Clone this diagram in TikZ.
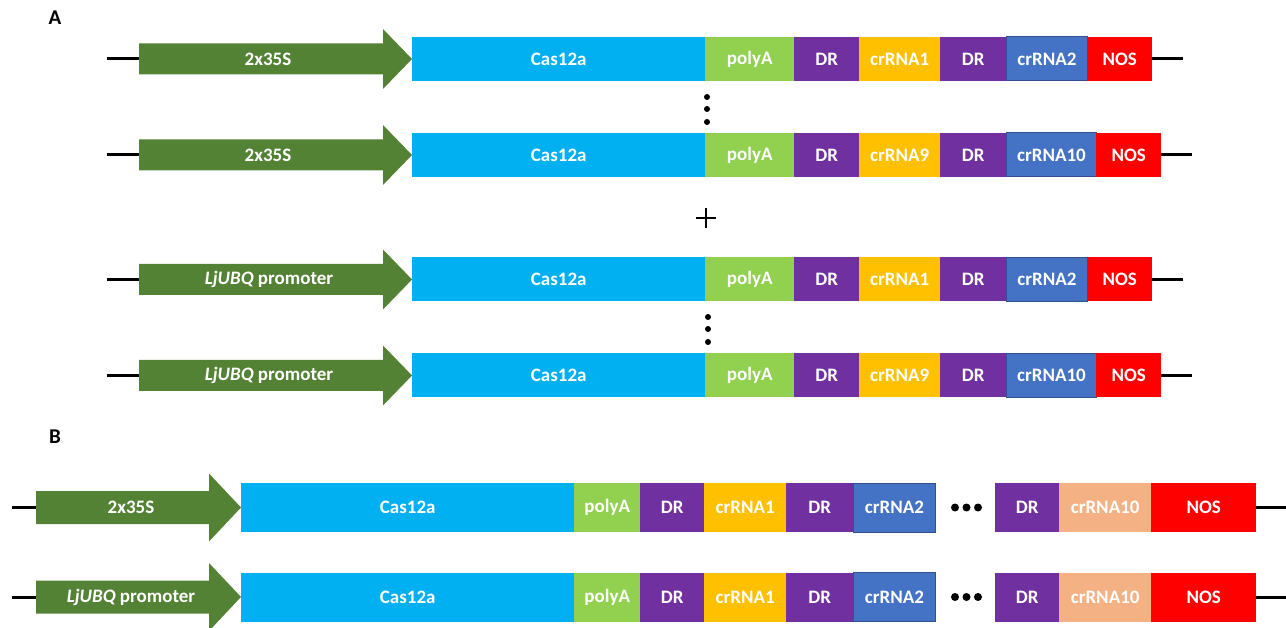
\documentclass[tikz,border=0pt]{standalone}
\usepackage{fontspec}
\setmainfont{Carlito}
\definecolor{prom}{HTML}{548235}
\definecolor{cas}{HTML}{00B0F0}
\definecolor{polya}{HTML}{92D050}
\definecolor{drc}{HTML}{7030A0}
\definecolor{cra}{HTML}{FFC000}
\definecolor{crb}{HTML}{4472C4}
\definecolor{crbdraw}{HTML}{2F528F}
\definecolor{nosc}{HTML}{FF0000}
\definecolor{crc}{HTML}{F4B183}
\tikzset{
  lbl/.style={text=white, font=\bfseries\fontsize{19}{21}\selectfont, inner sep=0pt},
  segbox/.style={rectangle, inner sep=0pt, anchor=west, text=white, font=\bfseries\fontsize{19}{21}\selectfont},
  dna/.style={line width=3pt, black},
  dotc/.style={circle, fill=black, inner sep=0pt},
  panel/.style={font=\bfseries\fontsize{21}{23}\selectfont, text=black}
}
\def\segh{44}
\newcommand\segm[7][]{%
  \node[segbox, fill=#6, minimum width={#4pt-#3pt}, minimum height=\segh pt, #1] (#2) at (#3,#5) {#7};}
\newcommand\promo[9]{%
  \fill[prom] (#2,#5-#6) -- (#3,#5-#6) -- (#3,#5-#7) -- (#4,#5) -- (#3,#5+#7) -- (#3,#5+#6) -- (#2,#5+#6) -- cycle;
  \node[lbl] (#1) at (#8,#5) {#9};
  \coordinate (#1tail) at (#2,#5);}
\begin{document}
\begin{tikzpicture}[x=1pt, y=-1pt]
\useasboundingbox (0,0) rectangle (1286,628);
\node[panel] (labA) at (55,18) {A};
\node[panel] (labB) at (55,437) {B};
% ---------- A row 1
\def\segh{44}
\coordinate (a1L) at (107,59);
\coordinate (a1R) at (1183,59);
\promo{a1p}{139}{383}{412}{59}{15.5}{30}{268}{2x35S}
\draw[dna] (a1L) -- (a1ptail);
\segm{a1cas}{412}{705}{59}{cas}{Cas12a}
\segm{a1pa}{705}{794}{59}{polya}{polyA}
\segm{a1dr1}{794}{859}{59}{drc}{DR}
\segm{a1c1}{859}{940}{59}{cra}{crRNA1}
\segm{a1dr2}{940}{1006}{59}{drc}{DR}
\segm[draw=crbdraw, line width=1pt]{a1c2}{1006}{1087}{59}{crb}{crRNA2}
\segm{a1nos}{1087}{1152}{59}{nosc}{NOS}
\draw[dna] (a1nos.east) -- (a1R);
% dots
\node[dotc, minimum size=6pt] (d1) at (707,97) {};
\node[dotc, minimum size=6pt] (d2) at (707,109) {};
\node[dotc, minimum size=6pt] (d3) at (707,122) {};
% ---------- A row 2
\coordinate (a2L) at (107,155);
\coordinate (a2R) at (1192,155);
\promo{a2p}{139}{383}{412}{155}{15.5}{30}{268}{2x35S}
\draw[dna] (a2L) -- (a2ptail);
\segm{a2cas}{412}{705}{155}{cas}{Cas12a}
\segm{a2pa}{705}{794}{155}{polya}{polyA}
\segm{a2dr1}{794}{859}{155}{drc}{DR}
\segm{a2c1}{859}{940}{155}{cra}{crRNA9}
\segm{a2dr2}{940}{1006}{155}{drc}{DR}
\segm[draw=crbdraw, line width=1pt]{a2c2}{1006}{1096}{155}{crb}{crRNA10}
\segm{a2nos}{1096}{1161}{155}{nosc}{NOS}
\draw[dna] (a2nos.east) -- (a2R);
% plus
\coordinate (plc) at (706,218);
\draw[line width=1.5pt] ([xshift=-10pt]plc) -- ([xshift=10pt]plc);
\draw[line width=1.5pt] ([yshift=-10pt]plc) -- ([yshift=10pt]plc);
% ---------- A row 3
\coordinate (a3L) at (107,279.5);
\coordinate (a3R) at (1183,279.5);
\promo{a3p}{139}{383}{412}{279.5}{15.5}{30}{269}{\textit{LjUBQ} promoter}
\draw[dna] (a3L) -- (a3ptail);
\segm{a3cas}{412}{705}{279.5}{cas}{Cas12a}
\segm{a3pa}{705}{794}{279.5}{polya}{polyA}
\segm{a3dr1}{794}{859}{279.5}{drc}{DR}
\segm{a3c1}{859}{940}{279.5}{cra}{crRNA1}
\segm{a3dr2}{940}{1006}{279.5}{drc}{DR}
\segm[draw=crbdraw, line width=1pt]{a3c2}{1006}{1087}{279.5}{crb}{crRNA2}
\segm{a3nos}{1087}{1152}{279.5}{nosc}{NOS}
\draw[dna] (a3nos.east) -- (a3R);
\node[dotc, minimum size=6pt] (d4) at (708,317) {};
\node[dotc, minimum size=6pt] (d5) at (708,329) {};
\node[dotc, minimum size=6pt] (d6) at (708,342) {};
% ---------- A row 4
\coordinate (a4L) at (107,375.5);
\coordinate (a4R) at (1192,375.5);
\promo{a4p}{139}{383}{412}{375.5}{15.5}{30}{269}{\textit{LjUBQ} promoter}
\draw[dna] (a4L) -- (a4ptail);
\segm{a4cas}{412}{705}{375.5}{cas}{Cas12a}
\segm{a4pa}{705}{794}{375.5}{polya}{polyA}
\segm{a4dr1}{794}{859}{375.5}{drc}{DR}
\segm{a4c1}{859}{940}{375.5}{cra}{crRNA9}
\segm{a4dr2}{940}{1006}{375.5}{drc}{DR}
\segm[draw=crbdraw, line width=1pt]{a4c2}{1006}{1096}{375.5}{crb}{crRNA10}
\segm{a4nos}{1096}{1161}{375.5}{nosc}{NOS}
\draw[dna] (a4nos.east) -- (a4R);
% ---------- B row 1
\def\segh{49}
\coordinate (b1L) at (12,507.5);
\coordinate (b1R) at (1290,507.5);
\promo{b1p}{36}{209}{241}{507.5}{16.5}{34}{131}{2x35S}
\draw[dna] (b1L) -- (b1ptail);
\segm{b1cas}{241}{574}{507.5}{cas}{Cas12a}
\segm{b1pa}{574}{640}{507.5}{polya}{polyA}
\segm{b1dr1}{640}{704}{507.5}{drc}{DR}
\segm{b1c1}{704}{786}{507.5}{cra}{crRNA1}
\segm{b1dr2}{786}{853}{507.5}{drc}{DR}
\segm[draw=crbdraw, line width=1pt]{b1c2}{853}{935}{507.5}{crb}{crRNA2}
\node[dotc, minimum size=8pt] (bd1) at (955,507.5) {};
\node[dotc, minimum size=8pt] (bd2) at (966.5,507.5) {};
\node[dotc, minimum size=8pt] (bd3) at (978,507.5) {};
\segm{b1dr3}{995}{1059}{507.5}{drc}{DR}
\segm{b1c10}{1059}{1151}{507.5}{crc}{crRNA10}
\segm{b1nos}{1151}{1256}{507.5}{nosc}{NOS}
\draw[dna] (b1nos.east) -- (b1R);
% ---------- B row 2
\coordinate (b2L) at (12,597);
\coordinate (b2R) at (1290,597);
\promo{b2p}{36}{209}{241}{597}{16.5}{34}{131}{\textit{LjUBQ} promoter}
\draw[dna] (b2L) -- (b2ptail);
\segm{b2cas}{241}{574}{597}{cas}{Cas12a}
\segm{b2pa}{574}{640}{597}{polya}{polyA}
\segm{b2dr1}{640}{704}{597}{drc}{DR}
\segm{b2c1}{704}{786}{597}{cra}{crRNA1}
\segm{b2dr2}{786}{853}{597}{drc}{DR}
\segm[draw=crbdraw, line width=1pt]{b2c2}{853}{935}{597}{crb}{crRNA2}
\node[dotc, minimum size=8pt] (bd4) at (955,597) {};
\node[dotc, minimum size=8pt] (bd5) at (966.5,597) {};
\node[dotc, minimum size=8pt] (bd6) at (978,597) {};
\segm{b2dr3}{995}{1059}{597}{drc}{DR}
\segm{b2c10}{1059}{1151}{597}{crc}{crRNA10}
\segm{b2nos}{1151}{1256}{597}{nosc}{NOS}
\draw[dna] (b2nos.east) -- (b2R);
\end{tikzpicture}
\end{document}
